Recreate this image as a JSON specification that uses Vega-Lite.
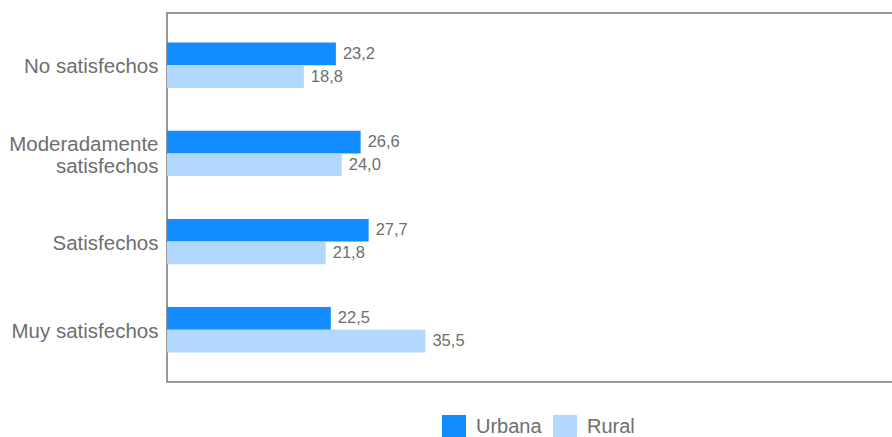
{
  "$schema": "https://vega.github.io/schema/vega-lite/v6.json",
  "autosize": "none",
  "width": 728,
  "height": 369,
  "padding": {"left": 167, "top": 13, "right": 0, "bottom": 55},
  "background": "white",
  "config": {
    "locale": {"number": {"decimal": ",", "thousands": ".", "grouping": [3], "currency": ["", " €"]}},
    "view": {"stroke": "#777777", "strokeWidth": 1.5},
    "font": "Liberation Sans"
  },
  "data": {
    "values": [
      {"categoria": "No satisfechos", "area": "Urbana", "valor": 23.2},
      {"categoria": "No satisfechos", "area": "Rural", "valor": 18.8},
      {"categoria": "Moderadamente|satisfechos", "area": "Urbana", "valor": 26.6},
      {"categoria": "Moderadamente|satisfechos", "area": "Rural", "valor": 24.0},
      {"categoria": "Satisfechos", "area": "Urbana", "valor": 27.7},
      {"categoria": "Satisfechos", "area": "Rural", "valor": 21.8},
      {"categoria": "Muy satisfechos", "area": "Urbana", "valor": 22.5},
      {"categoria": "Muy satisfechos", "area": "Rural", "valor": 35.5}
    ]
  },
  "encoding": {
    "y": {
      "field": "categoria", "type": "nominal", "sort": null,
      "scale": {"paddingInner": 0.485, "paddingOuter": 0.334},
      "axis": {
        "title": null, "ticks": false, "domain": false,
        "labelExpr": "split(datum.label, '|')",
        "labelFontSize": 20.5, "labelColor": "#6e6e6e", "labelPadding": 9,
        "labelLineHeight": 22, "labelLimit": 300,
        "labelOffset": {"condition": {"test": "indexof(datum.value, '|') >= 0", "value": -8}, "value": 2}
      }
    },
    "yOffset": {"field": "area", "type": "nominal", "sort": ["Urbana", "Rural"], "scale": {"paddingInner": 0, "paddingOuter": 0}},
    "x": {"field": "valor", "type": "quantitative", "scale": {"domain": [0, 100], "nice": false}, "axis": null}
  },
  "layer": [
    {
      "mark": {"type": "bar"},
      "encoding": {
        "color": {
          "field": "area", "type": "nominal",
          "scale": {"domain": ["Urbana", "Rural"], "range": ["#128cff", "#b3d8ff"]},
          "legend": {
            "title": null, "orient": "none", "direction": "horizontal",
            "legendX": 275, "legendY": 402,
            "symbolType": "square", "symbolSize": 576, "symbolStrokeWidth": 0,
            "labelFontSize": 20, "labelColor": "#6e6e6e", "labelOffset": 10,
            "columnPadding": 11
          }
        }
      }
    },
    {
      "mark": {"type": "text", "align": "left", "baseline": "middle", "dx": 7, "fontSize": 16.5, "color": "#6e6e6e"},
      "encoding": {
        "text": {"field": "valor", "type": "quantitative", "format": ".1f"}
      }
    }
  ]
}
